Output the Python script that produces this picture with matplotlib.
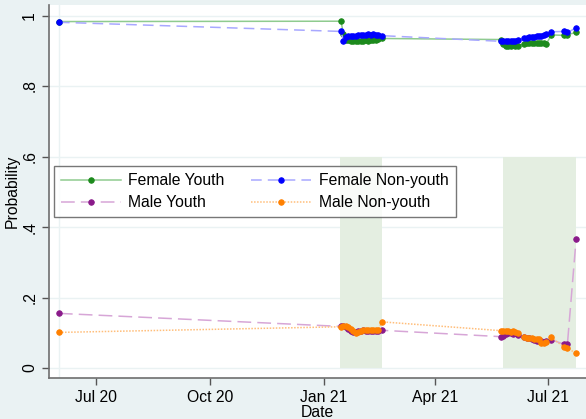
import matplotlib
matplotlib.use("Agg")
import matplotlib.pyplot as plt
import pandas as pd

plt.rcParams['font.family'] = ['Liberation Sans', 'DejaVu Sans']

# survey dates: one early round, then two waves
first_date = ["2020-06-01"]
wave1_dates = ["2021-01-15", "2021-01-17", "2021-01-19", "2021-01-21", "2021-01-23",
               "2021-01-25", "2021-01-27", "2021-01-29", "2021-01-31", "2021-02-02",
               "2021-02-04", "2021-02-06", "2021-02-08", "2021-02-10", "2021-02-12",
               "2021-02-14", "2021-02-17"]
wave2_dates = ["2021-05-24", "2021-05-26", "2021-05-28", "2021-05-30", "2021-06-01",
               "2021-06-03", "2021-06-05", "2021-06-07", "2021-06-12", "2021-06-14",
               "2021-06-16", "2021-06-18", "2021-06-20", "2021-06-22", "2021-06-24",
               "2021-06-26", "2021-06-28", "2021-06-30", "2021-07-04", "2021-07-14",
               "2021-07-17", "2021-07-24"]

female_youth = ([0.983] +
                [0.984, 0.947, 0.932, 0.930, 0.929, 0.927, 0.928, 0.927, 0.929, 0.928,
                 0.930, 0.929, 0.931, 0.930, 0.932, 0.933, 0.935] +
                [0.932, 0.918, 0.915, 0.914, 0.915, 0.916, 0.914, 0.915, 0.920, 0.921,
                 0.922, 0.921, 0.922, 0.923, 0.921, 0.922, 0.921, 0.920, 0.945, 0.944,
                 0.946, 0.952])
female_nonyouth = ([0.981] +
                   [0.955, 0.928, 0.939, 0.941, 0.942, 0.943, 0.943, 0.944, 0.945, 0.946,
                    0.946, 0.947, 0.946, 0.947, 0.945, 0.944, 0.943] +
                   [0.927, 0.928, 0.929, 0.927, 0.928, 0.929, 0.928, 0.930, 0.935, 0.937,
                    0.938, 0.939, 0.940, 0.941, 0.942, 0.943, 0.944, 0.947, 0.954, 0.955,
                    0.952, 0.965])
male_youth = ([0.155] +
              [0.118, 0.119, 0.115, 0.110, 0.106, 0.103, 0.103, 0.104, 0.106, 0.107,
               0.106, 0.106, 0.105, 0.106, 0.105, 0.106, 0.107] +
              [0.089, 0.090, 0.096, 0.098, 0.098, 0.097, 0.098, 0.095, 0.089, 0.086,
               0.084, 0.083, 0.080, 0.077, 0.076, 0.077, 0.075, 0.076, 0.080, 0.068,
               0.069, 0.365])
male_nonyouth = ([0.101] +
                 [0.117, 0.118, 0.119, 0.117, 0.112, 0.104, 0.100, 0.101, 0.106, 0.108,
                  0.108, 0.109, 0.108, 0.108, 0.107, 0.108, 0.131] +
                 [0.106, 0.105, 0.104, 0.105, 0.103, 0.104, 0.103, 0.100, 0.087, 0.086,
                  0.085, 0.084, 0.082, 0.083, 0.081, 0.072, 0.070, 0.073, 0.087, 0.060,
                  0.056, 0.042])

shade_periods = [("2021-01-14", "2021-02-17"), ("2021-05-26", "2021-07-24")]
shade_top = 0.6

xtick_dates = ["2020-07-01", "2020-10-01", "2021-01-01", "2021-04-01", "2021-07-01"]
xtick_labels = ["Jul 20", "Oct 20", "Jan 21", "Apr 21", "Jul 21"]
ytick_vals = [0, 0.2, 0.4, 0.6, 0.8, 1.0]
ytick_labels = ["0", ".2", ".4", ".6", ".8", "1"]

dates = pd.to_datetime(first_date + wave1_dates + wave2_dates)

bg = "#eaf2f3"
fs = 11.3
fig = plt.figure(figsize=(5.86, 4.19), dpi=100, facecolor=bg)
ax = fig.add_axes([49 / 586, 1 - 377.7 / 419, 537 / 586, 372.7 / 419])
ax.set_facecolor("white")

for start, end in shade_periods:
    ax.fill_between(pd.to_datetime([start, end]), 0, shade_top,
                    color="#e4eee1", lw=0, zorder=1)

for y in ytick_vals:
    ax.axhline(y, color=bg, lw=1, zorder=0.5)
ax.axvline(dates[0], color=bg, lw=1, zorder=0.5)

series = [
    ("Female Youth", female_youth, "#8fcb8f", "#1c8a1c", "-"),
    ("Male Youth", male_youth, "#d7a6d7", "#8a1a8a", (0, (9, 4))),
    ("Female Non-youth", female_nonyouth, "#a8a8ff", "#0000ff", (0, (7, 4))),
    ("Male Non-youth", male_nonyouth, "#ffbe7a", "#ff8000", (0, (1, 1))),
]
handles = []
for name, vals, lcol, mcol, ls in series:
    h, = ax.plot(dates, vals, color=lcol, ls=ls, lw=1.1, marker="o",
                 markersize=4.0, markerfacecolor=mcol, markeredgecolor=mcol,
                 markeredgewidth=0.6, label=name, zorder=3)
    handles.append(h)

ax.set_xlim(pd.Timestamp("2020-05-24"), pd.Timestamp("2021-08-01"))
ax.set_ylim(-0.0275, 1.03)
ax.set_xticks(pd.to_datetime(xtick_dates))
ax.set_xticklabels(xtick_labels, fontsize=fs)
ax.set_yticks(ytick_vals)
ax.set_yticklabels(ytick_labels, fontsize=fs, rotation=90, va="center")
ax.tick_params(direction="out", length=5, color="#555555", width=1)
ax.set_xlabel("Date", fontsize=fs, labelpad=0)
ax.set_ylabel("Probability", fontsize=fs, labelpad=2)

for side in ["top", "right"]:
    ax.spines[side].set_visible(False)
for side in ["left", "bottom"]:
    ax.spines[side].set_color("#6e6e6e")
    ax.spines[side].set_linewidth(1.2)

leg = ax.legend(handles=handles, ncol=2, loc="upper left",
                bbox_to_anchor=(0.009, 0.568), borderaxespad=0, fontsize=fs,
                frameon=True, fancybox=False, edgecolor="#555555",
                handlelength=3.8, handletextpad=0.5, columnspacing=1.7,
                borderpad=0.45, labelspacing=0.45)
leg.get_frame().set_linewidth(1.0)

fig.savefig("out.png", dpi=100, facecolor=bg)
